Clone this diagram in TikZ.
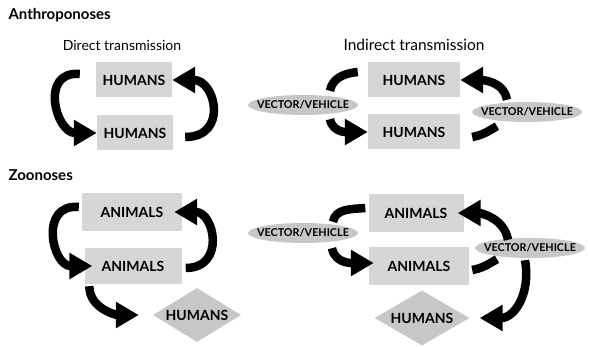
\documentclass[tikz,border=0pt]{standalone}
\usepackage{fontspec}
\setmainfont{Lato}
\usetikzlibrary{shapes.geometric,arrows.meta}

\begin{document}
\begin{tikzpicture}
    [
        x = 1pt, y = 1pt,
        grouptitle/.style = {font=\fontsize{15}{15}\selectfont\bfseries, anchor=west},
        subtitle/.style = {font=\fontsize{14}{15}\selectfont},
        hostbox/.style = {fill=black!16, minimum width=76pt, minimum height=35pt, inner sep=0pt, font=\fontsize{14}{14}\selectfont\bfseries},
        vecnode/.style = {ellipse, fill=black!22, minimum width=110pt, minimum height=20pt, inner sep=0pt},
        humdiamond/.style = {diamond, fill=black!22, minimum width=90pt, minimum height=56pt, inner sep=0pt},
        hosttext/.style = {font=\fontsize{14}{14}\selectfont\bfseries},
        vectext/.style = {font=\fontsize{10.8}{11}\selectfont\bfseries},
        cyclearrow/.style = {line width=8.5pt, -{Triangle[length=23pt,width=25pt]}},
        joinline/.style = {line width=8.5pt}
    ]

    \useasboundingbox (0,0) rectangle (590,-347);

    % Anthroponoses
    \node[grouptitle] (anthro) at (5,-15) {Anthroponoses};
    \node[subtitle] (direct) at (122,-45) {Direct transmission};
    \node[subtitle, font=\fontsize{15.5}{16}\selectfont] (indirect) at (414,-45) {Indirect transmission};

    \node[hostbox] (dh1) at (134,-80) {HUMANS};
    \node[hostbox] (dh2) at (135,-133) {HUMANS};

    \draw[cyclearrow] ([xshift=-16pt,yshift=6pt]dh1.west) to[out=175,in=180,looseness=1.7] (dh2.west);
    \draw[cyclearrow] ([xshift=12pt,yshift=-4pt]dh2.east) to[out=0,in=0,looseness=1.9] (dh1.east);

    \node[hostbox, minimum width=92pt] (ih1) at (414,-80) {HUMANS};
    \node[hostbox, minimum width=92pt] (ih2) at (414,-132) {HUMANS};
    \node[vecnode, label={[vectext]center:VECTOR/VEHICLE}] (iv1) at (303,-105) {};
    \node[vecnode, label={[vectext]center:VECTOR/VEHICLE}] (iv2) at (527,-112) {};

    \draw[joinline] ([xshift=-10pt,yshift=8pt]ih1.west) to[out=185,in=80] ([xshift=27pt,yshift=4pt]iv1.north);
    \draw[cyclearrow] ([xshift=27pt,yshift=-4pt]iv1.south) to[out=-80,in=180] (ih2.west);
    \draw[joinline] ([xshift=12pt,yshift=-5pt]ih2.east) to[out=10,in=-150] ([xshift=-30pt,yshift=-4pt]iv2.south);
    \draw[cyclearrow] ([xshift=-20pt,yshift=2pt]iv2.north) to[out=100,in=0] (ih1.east);

    % Zoonoses
    \node[grouptitle] (zoo) at (5,-175) {Zoonoses};

    \node[hostbox, minimum width=100pt, minimum height=38pt] (da1) at (132,-212) {ANIMALS};
    \node[hostbox, minimum width=97pt, minimum height=36pt] (da2) at (133,-266) {ANIMALS};
    \node[humdiamond, minimum width=88pt, minimum height=54pt, label={[hosttext]center:HUMANS}] (dhum) at (197,-315) {};

    \draw[cyclearrow] ([xshift=-3pt,yshift=5pt]da1.west) to[out=175,in=180,looseness=1.7] ([xshift=8pt]da2.west);
    \draw[cyclearrow] ([xshift=4pt,yshift=-2pt]da2.east) to[out=0,in=0,looseness=1.8] ([xshift=-8pt]da1.east);
    \draw[cyclearrow] ([xshift=5pt,yshift=-2pt]da2.south west) to[out=-90,in=180] ([xshift=-14pt]dhum.west);

    \node[hostbox, minimum width=95pt, minimum height=38pt] (ia1) at (416,-213) {ANIMALS};
    \node[hostbox, minimum width=100pt, minimum height=38pt] (ia2) at (419,-266) {ANIMALS};
    \node[vecnode, label={[vectext]center:VECTOR/VEHICLE}] (zv1) at (303,-233) {};
    \node[vecnode, label={[vectext]center:VECTOR/VEHICLE}] (zv2) at (530,-248) {};
    \node[humdiamond, minimum width=95pt, minimum height=55pt, label={[hosttext]center:HUMANS}] (ihum) at (422,-318) {};

    \draw[joinline] ([xshift=-3pt,yshift=5pt]ia1.west) to[out=185,in=80] ([xshift=30pt,yshift=1pt]zv1.north);
    \draw[cyclearrow] ([xshift=29pt,yshift=-5pt]zv1.south) to[out=-80,in=180] ([xshift=5pt,yshift=3pt]ia2.west);
    \draw[joinline] ([xshift=3pt,yshift=-4pt]ia2.east) to[out=10,in=-150] ([xshift=-33pt,yshift=-1pt]zv2.south);
    \draw[cyclearrow] ([xshift=-22pt,yshift=-2pt]zv2.north) to[out=100,in=0] ([xshift=-6pt]ia1.east);
    \draw[cyclearrow] ([xshift=-5pt,yshift=-2pt]zv2.south) to[out=-80,in=0,looseness=1.2] ([xshift=10pt]ihum.east);
\end{tikzpicture}
\end{document}
